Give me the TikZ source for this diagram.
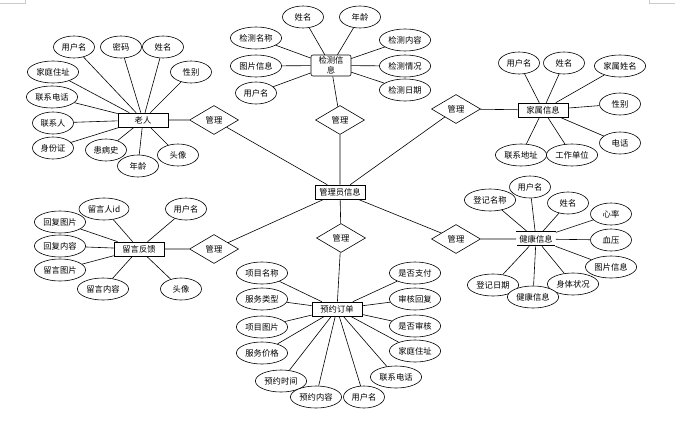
\documentclass[tikz,border=0pt]{standalone}
\usepackage{fontspec}
\setmainfont{Noto Sans CJK SC}
\usetikzlibrary{shapes.geometric}

\begin{document}
\begin{tikzpicture}[x=1pt,y=-1pt,line width=0.6pt,
	every node/.style={font=\fontsize{8.3}{10}\selectfont},
	attr/.style={draw,fill=white,ellipse,minimum width=41pt,minimum height=22pt,inner sep=1.5pt},
	ent/.style={draw,fill=white,rectangle,minimum width=50pt,minimum height=14pt,inner sep=1pt},
	rel/.style={draw,fill=white,diamond,aspect=1.7,minimum width=49pt,minimum height=29pt,inner sep=0pt}]
		\useasboundingbox (0,0) rectangle (679,423);
		\draw[gray!40,line width=0.5pt] (0,3) -- (25,3) -- (25,0);
		\draw[gray!40,line width=0.5pt] (649,0) -- (649,3) -- (675,3);
		
		\node[ent] (admin) at (340,192) {管理员信息};
		
		\node[ent] (lr) at (143,120) {老人};
		\node[attr] (lr1) at (74,47) {用户名};
		\node[attr] (lr2) at (121,47) {密码};
		\node[attr] (lr3) at (163,47) {姓名};
		\node[attr] (lr4) at (191,72) {性别};
		\node[attr] (lr5) at (53,72) {家庭住址};
		\node[attr] (lr6) at (52,97) {联系电话};
		\node[attr] (lr7) at (53,123) {联系人};
		\node[attr] (lr8) at (53,148) {身份证};
		\node[attr] (lr9) at (106,150) {患病史};
		\node[attr] (lr10) at (138,166) {年龄};
		\node[attr] (lr11) at (178,155) {头像};
		\node[rel] (g1) at (214,120) {管理};
		
		\node[ent,minimum width=40pt,minimum height=21pt,rounded corners=2pt,align=center,inner sep=0.5pt] (jc) at (331,65.5) {检测信\\息};
		\node[attr] (jc1) at (303,17) {姓名};
		\node[attr] (jc2) at (360,17) {年龄};
		\node[attr] (jc3) at (256,38) {检测名称};
		\node[attr] (jc4) at (256,66) {图片信息};
		\node[attr] (jc5) at (256,93) {用户名};
		\node[attr] (jc6) at (405,40) {检测内容};
		\node[attr] (jc7) at (405,66) {检测情况};
		\node[attr] (jc8) at (405,90) {检测日期};
		\node[rel] (g2) at (340,120) {管理};
		
		\node[ent] (jt) at (543,110) {家属信息};
		\node[attr] (jt1) at (519,63) {用户名};
		\node[attr] (jt2) at (564,63) {姓名};
		\node[attr] (jt3) at (620,66) {家属姓名};
		\node[attr] (jt4) at (620,104) {性别};
		\node[attr] (jt5) at (620,143) {电话};
		\node[attr] (jt6) at (521,155) {联系地址};
		\node[attr] (jt7) at (572,155) {工作单位};
		\node[rel] (g3) at (456,109) {管理};
		
		\node[ent] (ly) at (139,249) {留言反馈};
		\node[attr] (ly1) at (104,209) {留言人id};
		\node[attr] (ly2) at (186,209) {用户名};
		\node[attr] (ly3) at (60,222) {回复图片};
		\node[attr] (ly4) at (60,246) {回复内容};
		\node[attr] (ly5) at (60,270) {留言图片};
		\node[attr] (ly6) at (103,289) {留言内容};
		\node[attr] (ly7) at (181,289) {头像};
		\node[rel] (g4) at (214,249) {管理};
		
		\node[ent] (yy) at (337,309) {预约订单};
		\node[attr] (yy1) at (262,273) {项目名称};
		\node[attr] (yy2) at (262,299) {服务类型};
		\node[attr] (yy3) at (262,327) {项目图片};
		\node[attr] (yy4) at (262,353) {服务价格};
		\node[attr] (yy5) at (281,381) {预约时间};
		\node[attr] (yy6) at (316,397) {预约内容};
		\node[attr] (yy7) at (364,397) {用户名};
		\node[attr] (yy8) at (396,377) {联系电话};
		\node[attr] (yy9) at (415,351) {家庭住址};
		\node[attr] (yy10) at (415,326) {是否审核};
		\node[attr] (yy11) at (415,299) {审核回复};
		\node[attr] (yy12) at (415,273) {是否支付};
		\node[rel] (g5) at (341,238) {管理};
		
		\node[ent,minimum width=39pt,double,double distance=0.6pt] (jk) at (536,239) {健康信息};
		\node[attr] (jk1) at (530,187) {用户名};
		\node[attr] (jk2) at (490,200) {登记名称};
		\node[attr] (jk3) at (568,203) {姓名};
		\node[attr] (jk4) at (611,214) {心率};
		\node[attr] (jk5) at (611,240) {血压};
		\node[attr] (jk6) at (611,267) {图片信息};
		\node[attr] (jk7) at (573,284) {身体状况};
		\node[attr] (jk9) at (493,285) {登记日期};
		\node[attr] (jk8) at (533,297) {健康信息};
		\node[rel] (g6) at (456,239) {管理};
		
		\draw (lr1) -- (lr) -- (lr2);
		\draw (lr3) -- (lr) -- (lr4);
		\draw (lr5) -- (lr) -- (lr6);
		\draw (lr7) -- (lr) -- (lr8);
		\draw (lr9) -- (lr) -- (lr10);
		\draw (lr11) -- (lr) -- (g1) -- (admin);
		
		\draw (jc1) -- (jc) -- (jc2);
		\draw (jc3) -- (jc) -- (jc4);
		\draw (jc5) -- (jc) -- (jc6);
		\draw (jc7) -- (jc) -- (jc8);
		\draw (jc) -- (g2) -- (admin);
		
		\draw (jt1) -- (jt) -- (jt2);
		\draw (jt3) -- (jt) -- (jt4);
		\draw (jt5) -- (jt) -- (jt6);
		\draw (jt7) -- (jt) -- (g3) -- (admin);
		
		\draw (ly1) -- (ly) -- (ly2);
		\draw (ly3) -- (ly) -- (ly4);
		\draw (ly5) -- (ly) -- (ly6);
		\draw (ly7) -- (ly) -- (g4) -- (admin);
		
		\draw (yy1) -- (yy) -- (yy2);
		\draw (yy3) -- (yy) -- (yy4);
		\draw (yy5) -- (yy) -- (yy6);
		\draw (yy7) -- (yy) -- (yy8);
		\draw (yy9) -- (yy) -- (yy10);
		\draw (yy11) -- (yy) -- (yy12);
		\draw (yy) -- (g5) -- (admin);
		
		\draw (jk1) -- (jk) -- (jk2);
		\draw (jk3) -- (jk) -- (jk4);
		\draw (jk5) -- (jk) -- (jk6);
		\draw (jk7) -- (jk) -- (jk8);
		\draw (jk9) -- (jk) -- (g6) -- (admin);
		\end{tikzpicture}
\end{document}
